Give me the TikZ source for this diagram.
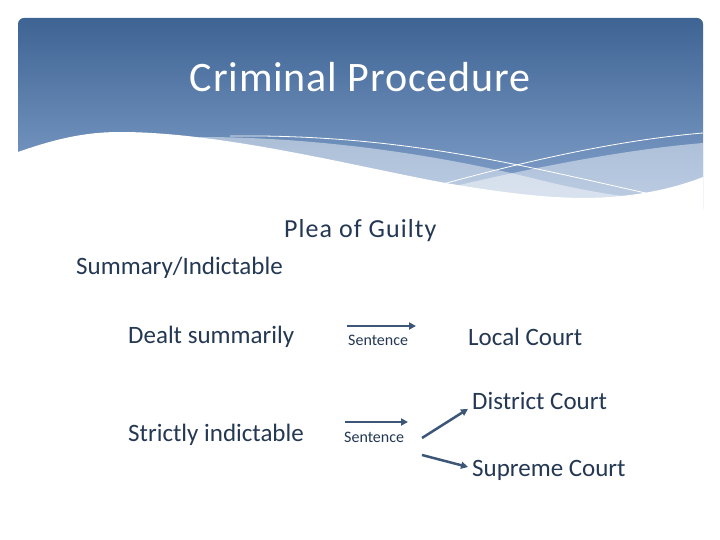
\documentclass[tikz,border=0pt]{standalone}
\usepackage{fontspec}
\setmainfont{Carlito}
\usetikzlibrary{arrows.meta}

\definecolor{hdrtop}{RGB}{62,100,148}
\definecolor{hdrbot}{RGB}{136,166,207}
\definecolor{inkblue}{RGB}{36,56,84}
\definecolor{arrowblue}{RGB}{60,86,120}

\begin{document}
\begin{tikzpicture}[x=1pt,y=-1pt,
    body/.style={text=inkblue,font=\fontsize{25}{30}\selectfont,
                 inner sep=0pt,anchor=west},
    small/.style={text=inkblue,font=\fontsize{16}{19}\selectfont,
                  inner sep=0pt,anchor=west},
    flow/.style={-{Triangle[length=7pt,width=7pt]},draw=arrowblue,line width=2.5pt}
  ]
    \useasboundingbox[fill=white] (0,0) rectangle (720,540);

    % header band with waves
    \shade[top color=hdrtop,bottom color=hdrbot,rounded corners=6pt]
      (18,18) rectangle (703,215);
    \fill[white,opacity=0.45]
      (200,137) .. controls (300,137) and (420,150) .. (540,180)
      .. controls (580,190) and (620,197) .. (660,200) -- (660,215) -- (200,215) -- cycle;
    \fill[white,opacity=0.45]
      (430,192) .. controls (520,170) and (620,150) .. (703,143)
      -- (703,215) -- (430,215) -- cycle;
    \fill[white]
      (18,152) .. controls (55,139) and (85,132) .. (120,132)
      .. controls (220,132) and (350,165) .. (440,182)
      .. controls (520,196) and (570,200) .. (610,197)
      .. controls (650,194) and (680,186) .. (703,177)
      -- (703,220) -- (18,220) -- cycle;
    \draw[white,line width=0.8pt]
      (230,136) .. controls (400,134) and (520,165) .. (650,194);
    \draw[white,line width=0.8pt]
      (443,184) .. controls (530,160) and (620,140) .. (703,133);

    \node[text=white,font=\fontsize{42}{48}\selectfont,inner sep=0pt] (title) at (360,77)
      {\addfontfeature{LetterSpace=2}Criminal Procedure};

    \node[body,font=\fontsize{26}{30}\selectfont\addfontfeature{LetterSpace=4}] (plea) at (284,231) {Plea of Guilty};
    \node[body] (sumind) at (76,268) {Summary/Indictable};
    \node[body] (dealt) at (128,337) {Dealt summarily};
    \node[small] (sent1) at (348,340) {Sentence};
    \node[body] (local) at (468,337) {Local Court};
    \node[body] (district) at (472,401) {District Court};
    \node[body] (strict) at (128,435) {Strictly indictable};
    \node[small] (sent2) at (344,437) {Sentence};
    \node[body] (supreme) at (472,470) {Supreme Court};

    \coordinate (s1a) at (347,326);
    \coordinate (s1b) at (416,326);
    \coordinate (s2a) at (345,422);
    \coordinate (s2b) at (408,422);
    \coordinate (up) at (422,438);
    \coordinate (down) at (422,455);

    \draw[flow,line width=1.8pt] (s1a) -- (s1b);
    \draw[flow] (s2a) -- (s2b);
    \draw[flow] (up) -- ([xshift=-4pt,yshift=1pt]district.south west);
    \draw[flow] (down) -- ([xshift=-4pt,yshift=3pt]supreme.west);
  \end{tikzpicture}
\end{document}
